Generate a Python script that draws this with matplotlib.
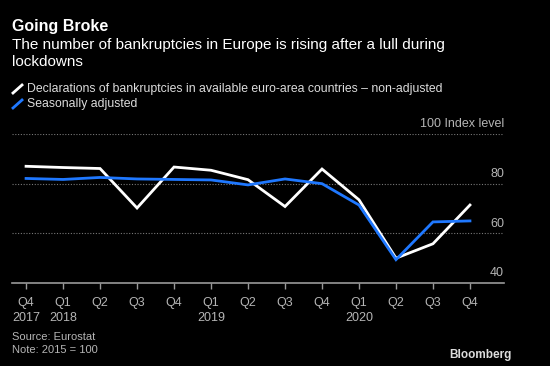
import matplotlib
matplotlib.use("Agg")
import matplotlib.pyplot as plt
from matplotlib.lines import Line2D

quarters = ["Q4", "Q1", "Q2", "Q3", "Q4", "Q1", "Q2", "Q3", "Q4", "Q1", "Q2", "Q3", "Q4"]
years = ["2017", "2018", "", "", "", "2019", "", "", "", "2020", "", "", ""]
non_adjusted = [87.0, 86.5, 86.1, 70.2, 86.7, 85.4, 81.6, 70.8, 85.9, 73.5, 50.0, 55.8, 71.4]
seasonally_adjusted = [82.1, 81.7, 82.5, 81.9, 81.7, 81.5, 79.5, 81.9, 80.0, 71.4, 49.4, 64.6, 65.0]
y_ticks = [40, 60, 80, 100]
y_labels = ["40", "60", "80", "100 Index level"]

FONT = "Liberation Sans"
W, H = 550, 366
fig = plt.figure(figsize=(5.5, 3.66), dpi=100, facecolor="black")
ax = fig.add_axes([12 / W, 1 - 283 / H, (504 - 12) / W, (283 - 134) / H], facecolor="black")

x = list(range(len(quarters)))
ax.plot(x, non_adjusted, color="white", lw=2, solid_joinstyle="miter", zorder=3)
ax.plot(x, seasonally_adjusted, color="#1f78ff", lw=2, solid_joinstyle="miter", zorder=4)

ax.set_xlim(-0.38, 12.92)
ax.set_ylim(40, 100)
for v in y_ticks[1:]:
    ax.axhline(v, color="#777777", lw=0.8, ls=(0, (1, 1.5)), zorder=1)
for v, lab in zip(y_ticks, y_labels):
    ax.text(12.92, v + 1.5, lab, ha="right", va="bottom", color="#b5b5b5",
            fontsize=9, family=FONT)

for s in ["top", "right", "left"]:
    ax.spines[s].set_visible(False)
ax.spines["bottom"].set_color("#999999")
ax.spines["bottom"].set_linewidth(1.2)
ax.set_yticks([])
ax.set_xticks(x)
ax.set_xticklabels([q + ("\n" + y if y else "\n") for q, y in zip(quarters, years)],
                   color="#b5b5b5", fontsize=9, family=FONT, linespacing=1.35)
ax.tick_params(axis="x", colors="#999999", length=4, width=1, pad=6, labelcolor="#b5b5b5")

fig.text(12 / W, 1 - 26 / H, "Going Broke", color="white", fontsize=11.5, weight="bold",
         family=FONT, va="center")
fig.text(12 / W, 1 - 53.5 / H, "The number of bankruptcies in Europe is rising after a lull during\nlockdowns",
         color="white", fontsize=11, family=FONT, va="center", linespacing=1.25)

leg_items = [("Declarations of bankruptcies in available euro-area countries \u2013 non-adjusted", "white", 89),
             ("Seasonally adjusted", "#1f78ff", 104)]
for text, col, yy in leg_items:
    fig.add_artist(Line2D([13 / W, 22 / W], [1 - (yy + 4) / H, 1 - (yy - 4) / H],
                          color=col, lw=2, transform=fig.transFigure))
    fig.text(27 / W, 1 - yy / H, text, color="#dddddd", fontsize=8.8, family=FONT, va="center")

fig.text(12 / W, 1 - 343.5 / H, "Source: Eurostat\nNote: 2015 = 100", color="#b5b5b5",
         fontsize=8, family=FONT, va="center", linespacing=1.3)
fig.text(512 / W, 1 - 355 / H, "Bloomberg", color="#dddddd", fontsize=8.5, weight="bold",
         family=FONT, ha="right", va="center")

fig.savefig("out.png", dpi=100, facecolor="black")
